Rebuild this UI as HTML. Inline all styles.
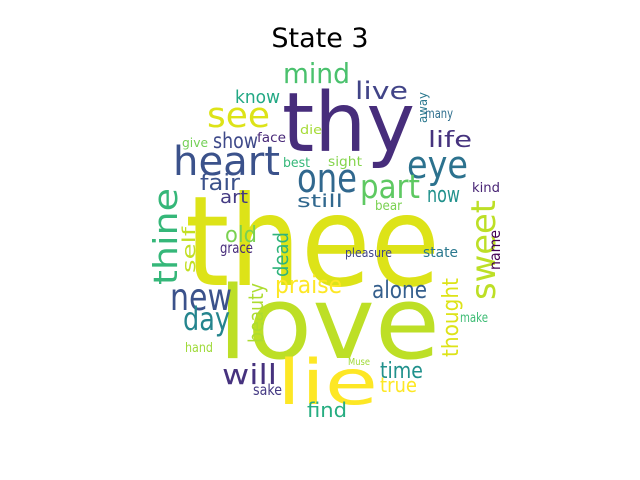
<!DOCTYPE html>
<html><head><meta charset="utf-8"><style>
html,body{margin:0;padding:0;background:#fff;}
svg{display:block;font-family:"DejaVu Sans","Liberation Sans",sans-serif;}
</style></head><body>
<svg id="chart" width="640" height="480" viewBox="0 0 640 480" xmlns="http://www.w3.org/2000/svg">
<rect width="640" height="480" fill="#fff"/>
<text x="320" y="47" text-anchor="middle" font-size="27" fill="#000">State 3</text>
<g id="cloud"></g>
</svg>
<script>
const words = ["thee","love","thy","lie","heart","one","eye","see","mind","live","know","show","give","face","die","away","many","life","part","now","fair","best","sight","art","still","kind","bear","thine","self","old","grace","dead","pleasure","state","sweet","name","new","day","beauty","praise","alone","thought","make","hand","Muse","will","time","true","sake","find"];
const sizes = [125,101,82,62,40,40,38,35,28,24,18,21,12,13,12,12,13,22,33,22,22,13,13,18,18,13,13,33,18,22,15,20,12,14,34,15,37,32,20,24,24,22,13,13,10,28,22,20,15,20];
const colors = ["#dde318","#bddf26","#472d7b","#fde725","#3b528b","#31688e","#2c728e","#dde318","#4ac16d","#414487","#22a884","#3e4989","#73d056","#482878","#a5db36","#2a788e","#2e6e8e","#46337e","#5ec962","#21918c","#3b528b","#35b779","#84d44b","#443a83","#31688e","#482475","#7ad151","#35b779","#c2df23","#7ad151","#472c7a","#2fb47c","#404688","#2a788e","#bddf26","#440154","#3b528b","#25858e","#addc30","#fde725","#355f8d","#dde318","#3dbc74","#9fda3a","#a0da39","#46327e","#21918c","#fde725","#443983","#26ad81"];
// layout: x, baseline y, rendered width, vertical flag
const layout = [[185,285,255,0],[218,358,222,0],[282,151,133,0],[277,404,101,0],[173,175,107,0],[297,192,60,0],[407,178,61,0],[207,127,63,0],[283,83,67,0],[355,99,53,0],[235,103,45,0],[213,148,45,0],[182,147,26,0],[257,142,29,0],[300,134,22,0],[427,123,31,1],[425,118,28,0],[428,147,44,0],[360,198,60,0],[427,202,33,0],[200,190,40,0],[283,167,27,0],[328,166,34,0],[220,203,28,0],[297,207,46,0],[472,192,28,0],[375,210,27,0],[177,285,97,1],[195,273,46,1],[225,242,32,0],[220,253,33,0],[288,277,45,1],[345,257,47,0],[423,257,35,0],[495,300,100,1],[500,270,40,1],[170,310,62,0],[183,330,47,0],[263,343,60,1],[275,293,67,0],[372,298,55,0],[458,357,79,1],[460,322,28,0],[185,352,28,0],[348,365,22,0],[222,384,55,0],[380,378,43,0],[380,392,37,0],[253,395,29,0],[307,417,40,0]];
const g = document.getElementById('cloud');
for (let i = 0; i < words.length; i++) {
  const t = document.createElementNS('http://www.w3.org/2000/svg','text');
  const [x,y,w,v] = layout[i];
  t.setAttribute('x', x);
  t.setAttribute('y', y);
  t.setAttribute('font-size', sizes[i]);
  t.setAttribute('fill', colors[i]);
  t.setAttribute('textLength', w);
  t.setAttribute('lengthAdjust', 'spacingAndGlyphs');
  if (v) t.setAttribute('transform', 'rotate(-90 ' + x + ' ' + y + ')');
  t.textContent = words[i];
  
  
  g.appendChild(t);
}
</script>
</body></html>
